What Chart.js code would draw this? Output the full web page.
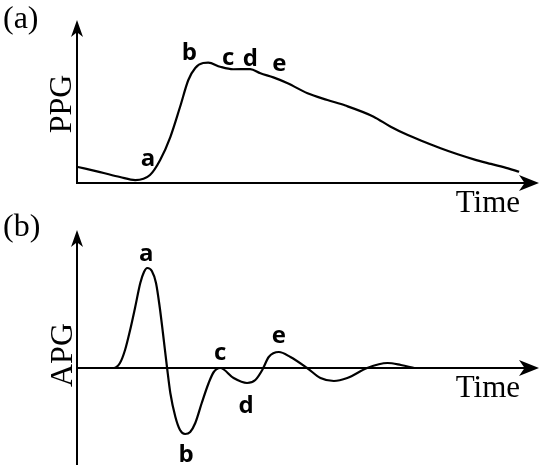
<!DOCTYPE html>
<html><head><meta charset="utf-8">
<script src="https://cdn.jsdelivr.net/npm/chart.js@4"></script>
<style>
html,body{margin:0;padding:0;background:#fff;}
#wrap{position:relative;width:550px;height:474px;}
canvas{position:absolute;left:0;top:0;}
</style>
</head><body>
<div id="wrap"><canvas id="ca" width="550" height="474"></canvas><canvas id="cb" width="550" height="474"></canvas></div>
<script>
// ---- data (normalized time 0..100) ----
const ppgTime  = [0.2, 5.0, 9.3, 12.6, 15.8, 18.0, 20.2, 22.3, 24.1, 25.6, 27.3, 28.4, 31.0, 33.8, 37.5, 39.7, 42.5, 45.6, 49.9, 54.2, 58.1, 64.2, 67.9, 71.6, 75.1, 78.7, 82.4, 85.9, 89.6, 93.3, 95.7];
const ppgValue = [9.8, 6.7, 3.7, 1.8, 4.9, 14.1, 28.2, 46.6, 63.2, 70.6, 73.6, 73.8, 71.3, 69.8, 69.9, 67.3, 64.8, 61.2, 55.0, 50.9, 47.5, 40.7, 34.5, 29.4, 25.3, 21.3, 17.6, 14.5, 11.7, 9.0, 6.9];
const apgTime  = [0, 7.9, 9.3, 10.4, 11.5, 12.6, 13.7, 14.5, 15.2, 16.2, 17.1, 17.9, 18.6, 19.5, 20.2, 21.3, 22.3, 23.4, 24.5, 25.6, 27.0, 28.5, 29.6, 31.0, 33.9, 36.8, 38.6, 40.1, 41.5, 43.7, 46.2, 49.8, 52.7, 55.6, 58.5, 62.8, 67.2, 70.1, 73.0];
const apgValue = [0, 0, 5, 18, 38, 61, 85, 96, 100, 97, 85, 61, 35, 0, -25, -49, -62, -66, -64, -55, -35, -15, -4, 0, -10, -15, -12, -2, 11, 16, 11, 0, -10, -13, -10, 0, 5, 3, 0];
const ppgMarks = ['a', 'b', 'c', 'd', 'e'];
const ppgMarkAt = [4, 9, 13, 14, 16];
const apgMarks = ['a', 'b', 'c', 'd', 'e'];
const apgMarkAt = [8, 17, 23, 25, 29];
const timeRange = [0, 100];
const ppgRange = [0, 100];
const apgRange = [-97, 138];

const zip = (xs, ys) => xs.map((x, i) => ({x: x, y: ys[i]}));

function drawArrow(ctx, tx, ty, dir, len, half) {
  ctx.beginPath();
  if (dir === 'right') {
    ctx.moveTo(tx, ty);
    ctx.lineTo(tx - len, ty - half);
    ctx.lineTo(tx - len * 0.72, ty);
    ctx.lineTo(tx - len, ty + half);
  } else {
    ctx.moveTo(tx, ty);
    ctx.lineTo(tx - half, ty + len);
    ctx.lineTo(tx, ty + len * 0.72);
    ctx.lineTo(tx + half, ty + len);
  }
  ctx.closePath();
  ctx.fill();
}

const sketchPlugin = {
  id: 'sketch',
  beforeDatasetsDraw(chart, args, o) {
    const ctx = chart.ctx, xs = chart.scales.x, ys = chart.scales.y;
    const x0 = xs.getPixelForValue(xs.min), x1 = xs.getPixelForValue(xs.max);
    const yTop = ys.getPixelForValue(ys.max), yBot = ys.getPixelForValue(ys.min);
    const yZero = ys.getPixelForValue(0);
    ctx.save();
    ctx.strokeStyle = '#000'; ctx.fillStyle = '#000'; ctx.lineWidth = 2;
    ctx.beginPath();
    ctx.moveTo(x0, yBot); ctx.lineTo(x0, yTop + 10);
    ctx.moveTo(x0 - 1, yZero); ctx.lineTo(x1 - 10, yZero);
    ctx.stroke();
    drawArrow(ctx, x0, yTop, 'up', 17, 6);
    drawArrow(ctx, x1, yZero, 'right', 20, 8);
    ctx.font = o.timeFont;
    ctx.textAlign = 'right'; ctx.textBaseline = 'alphabetic';
    ctx.fillText('Time', x1 - 19, yZero + 29);
    ctx.save();
    ctx.font = o.yTitleFont;
    ctx.translate(o.yTitleX, o.yTitleY);
    ctx.rotate(-Math.PI / 2);
    ctx.textAlign = 'center';
    ctx.fillText(o.yTitle, 0, 0);
    ctx.restore();
    ctx.font = o.panelFont;
    ctx.textAlign = 'left';
    ctx.fillText(o.panel, 3, o.panelY);
    ctx.restore();
  },
  afterDatasetsDraw(chart, args, o) {
    const ctx = chart.ctx, meta = chart.getDatasetMeta(0);
    ctx.save();
    ctx.fillStyle = '#000';
    ctx.font = o.markFont;
    ctx.textAlign = 'center'; ctx.textBaseline = 'alphabetic';
    o.marks.forEach((m, i) => {
      const p = meta.data[o.markAt[i]];
      const off = o.offsets[i];
      ctx.fillText(m, p.x + off[0], p.y + off[1]);
    });
    ctx.restore();
  }
};

function makeChart(id, data, yRange, pad, pluginOpts) {
  return new Chart(document.getElementById(id), {
    type: 'line',
    data: {datasets: [{data: data, borderColor: '#000', borderWidth: 2.2, pointRadius: 0,
      fill: false, cubicInterpolationMode: 'monotone', clip: false}]},
    options: {
      responsive: false, animation: false, devicePixelRatio: 1,
      layout: {padding: pad},
      plugins: {legend: {display: false}, tooltip: {enabled: false}, sketch: pluginOpts},
      scales: {
        x: {type: 'linear', display: false, min: timeRange[0], max: timeRange[1]},
        y: {type: 'linear', display: false, min: yRange[0], max: yRange[1]}
      }
    },
    plugins: [sketchPlugin]
  });
}

const common = {timeFont: '31px "Liberation Serif"', yTitleFont: '32px "Liberation Serif"',
  panelFont: '32px "Liberation Serif"', markFont: 'bold 24px "Open Sans"'};

makeChart('ca', zip(ppgTime, ppgValue), ppgRange,
  {left: 77, right: 11, top: 20, bottom: 291},
  Object.assign({}, common, {yTitle: 'PPG', yTitleX: 71, yTitleY: 104, panel: '(a)', panelY: 28,
   marks: ppgMarks, markAt: ppgMarkAt,
   offsets: [[-2, -9], [-6, -8], [-5, -4], [0, -3], [6, -6]]}));

makeChart('cb', zip(apgTime, apgValue), apgRange,
  {left: 77, right: 11, top: 230, bottom: 9},
  Object.assign({}, common, {yTitle: 'APG', yTitleX: 72, yTitleY: 355, panel: '(b)', panelY: 236,
   marks: apgMarks, markAt: apgMarkAt,
   offsets: [[-1, -7], [1, 28], [0, -8], [-1, 30], [0, -9]]}));
</script>
</body></html>
